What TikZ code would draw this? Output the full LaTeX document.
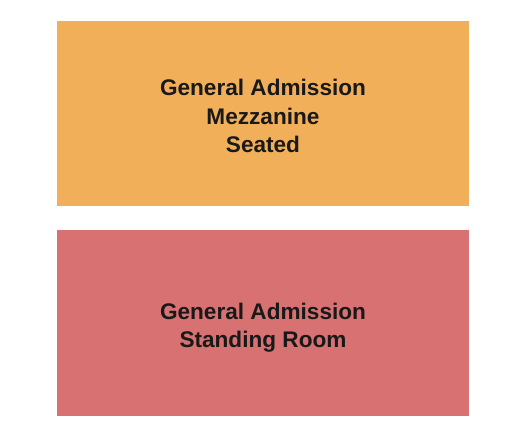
\documentclass[tikz,border=0pt]{standalone}
\usepackage{fontspec}
\setmainfont{Liberation Sans}
\usetikzlibrary{positioning}
\definecolor{mezzorange}{HTML}{F2AF5A}
\definecolor{floorred}{HTML}{D87171}
\begin{document}
\begin{tikzpicture}[x=1pt, y=-1pt,
					sectionnode/.style={rectangle,
					minimum width=412pt,
					inner sep=0pt},
					sectionlabel/.style={align=center,
					inner sep=0pt,
					text=black!90,
					font=\bfseries\fontsize{22.6}{28.5}\selectfont},
					node distance = 24pt
					]

\useasboundingbox (0,0) rectangle (525,444);

%top section
\node[sectionnode, fill=mezzorange, minimum height=185pt]  (Mezz) at (263,113.5) {};
\node[sectionlabel]  (MezzText) at ([yshift=-2.5pt]Mezz.center) {General Admission\\Mezzanine\\Seated};

%floor section
\node[sectionnode, fill=floorred, minimum height=186pt]  (Floor) [below = of Mezz] {};
\node[sectionlabel]  (FloorText) at ([yshift=-4.5pt]Floor.center) {General Admission\\Standing Room};

\end{tikzpicture}
\end{document}
